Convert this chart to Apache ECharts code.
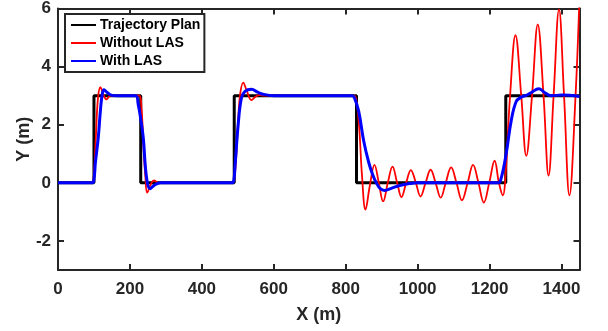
<!DOCTYPE html>
<html>
<head>
<meta charset="utf-8">
<script src="https://cdn.jsdelivr.net/npm/echarts@6/dist/echarts.min.js"></script>
<style>html,body{margin:0;padding:0;background:#fff}#c{width:608px;height:331px}</style>
</head>
<body>
<div id="c"></div>
<script>
const seriesNames = ["Trajectory Plan", "Without LAS", "With LAS"];
const xTicks = [0, 200, 400, 600, 800, 1000, 1200, 1400];
const yTicks = [-2, 0, 2, 4, 6];

const trajectoryPlan = [
  [0,0],[100,0],[100,3],[230,3],[230,0],[490,0],[490,3],[830,3],[830,0],[1245,0],[1245,3],[1450,3]
];

const withoutLAS = [
  [0,0],[92,0],[98,0.05],[105,1.5],[111,2.9],[118,3.29],[126,3.05],[135,2.87],[145,3.0],[160,3.0],
  [226,3.0],[232,2.6],[238,1.2],[243,0.2],[248,-0.34],[258,-0.05],[267,0.08],[280,0],[300,0],
  [486,0],[491,0.2],[496,1.0],[501,2.2],[507,3.1],[515,3.45],[524,3.2],[538,2.85],[550,2.97],[560,3.02],[575,3.0],
  [822,3.0],[830,2.8],[838,1.8],[845,0.3],[855,-0.92],[867,-0.1],[880,0.62],[892,0],[904,-0.64],
  [917,0],[930,0.56],[943,0],[955,-0.49],[968,0],[981,0.44],[995,0],[1008,-0.47],[1022,0],
  [1036,0.45],[1050,0],[1064,-0.51],[1078,0],[1093,0.53],[1108,0],[1123,-0.6],[1139,0],
  [1154,0.62],[1169,0],[1184,-0.68],[1199,0],[1214,0.76],[1226,0],[1237,-0.43],[1243,0],
  [1257,3.0],[1272,5.08],[1288,3.0],[1302,0.93],[1318,3.0],[1334,5.45],[1350,3.0],[1364,0.25],
  [1378,3.0],[1393,5.97],[1407,3.0],[1422,-0.43],[1439,3.0],[1450,6.4]
];

const withLAS = [
  [0,0],[92,0],[99,0.05],[104,0.7],[112,1.56],[118,2.5],[123,3.05],[128,3.2],[136,3.12],[148,3.02],[165,3.0],
  [216,3.0],[223,2.7],[230,2.2],[237,1.56],[246,0.2],[256,-0.2],[268,-0.08],[285,0],[300,0],
  [484,0],[489,0.1],[492,0.53],[501,2.0],[510,2.92],[520,3.15],[538,3.22],[555,3.12],[570,3.05],[600,3.0],
  [818,3.0],[825,2.9],[836,2.47],[850,1.44],[864,0.7],[875,0.28],[885,0],[896,-0.2],[908,-0.26],
  [925,-0.2],[950,-0.09],[980,-0.02],[1000,0],
  [1224,0],[1232,0.15],[1246,0.99],[1260,2.13],[1274,2.8],[1288,2.95],[1300,3.0],[1315,3.1],
  [1337,3.24],[1352,3.12],[1371,3.0],[1400,3.02],[1450,2.97]
];

const FONT = "'Liberation Sans', Arial, sans-serif";
const AX = '#262626';

const chart = echarts.init(document.getElementById('c'), null, {renderer: 'canvas'});
const baseAxisX = {
  type: 'value', min: 0, max: 1450, interval: 200,
  axisLine: {show: true, onZero: false, lineStyle: {color: AX, width: 2}},
  axisTick: {show: true, inside: true, length: 6, lineStyle: {color: AX, width: 2}},
  splitLine: {show: false}
};
const baseAxisY = {
  type: 'value', min: -3, max: 6, splitNumber: 5,
  axisLine: {show: true, onZero: false, lineStyle: {color: AX, width: 2}},
  axisTick: {show: true, inside: true, length: 6, lineStyle: {color: AX, width: 2}},
  splitLine: {show: false}
};

chart.setOption({
  animation: false,
  backgroundColor: '#fff',
  grid: {left: 58, right: 28.5, top: 6, bottom: 61, containLabel: false},
  legend: {
    show: true, orient: 'vertical', left: 65, top: 14,
    padding: [4, 4, 4, 5], itemGap: 4, itemWidth: 25, itemHeight: 14,
    backgroundColor: '#fff', borderColor: AX, borderWidth: 2, borderRadius: 0,
    itemStyle: {opacity: 0},
    textStyle: {fontFamily: FONT, fontWeight: 'bold', fontSize: 14, color: '#000', padding: [0,0,0,-1]},
    data: seriesNames
  },
  xAxis: [
    Object.assign({}, baseAxisX, {
      position: 'bottom',
      name: 'X (m)', nameLocation: 'middle', nameGap: 36, nameMoveOverlap: false,
      nameTextStyle: {fontFamily: FONT, fontWeight: 'bold', fontSize: 18, color: AX},
      axisLabel: {show: true, margin: 11, fontFamily: FONT, fontWeight: 'bold', fontSize: 17, color: AX,
        showMaxLabel: false,
        formatter: v => xTicks.indexOf(v) >= 0 ? String(v) : ''}
    }),
    Object.assign({}, baseAxisX, {position: 'top', axisLabel: {show: false}})
  ],
  yAxis: [
    Object.assign({}, baseAxisY, {
      position: 'left',
      name: 'Y (m)', nameLocation: 'middle', nameGap: 25, nameMoveOverlap: false,
      nameTextStyle: {fontFamily: FONT, fontWeight: 'bold', fontSize: 18, color: AX},
      axisLabel: {show: true, margin: 7, fontFamily: FONT, fontWeight: 'bold', fontSize: 17, color: AX,
        showMinLabel: false,
        formatter: v => yTicks.indexOf(v) >= 0 ? String(v) : ''}
    }),
    Object.assign({}, baseAxisY, {position: 'right', axisLabel: {show: false}})
  ],
  series: [
    {name: seriesNames[0], type: 'line', data: trajectoryPlan, symbol: 'none', smooth: false,
      lineStyle: {color: '#000', width: 3}, itemStyle: {color: '#000'}, z: 2},
    {name: seriesNames[1], type: 'line', data: withoutLAS, symbol: 'none', smooth: 0.4,
      lineStyle: {color: '#ff0000', width: 1.8}, itemStyle: {color: '#ff0000'}, z: 3},
    {name: seriesNames[2], type: 'line', data: withLAS, symbol: 'none', smooth: 0.4,
      lineStyle: {color: '#0000ff', width: 3}, itemStyle: {color: '#0000ff'}, z: 4}
  ]
});
</script>
</body>
</html>
